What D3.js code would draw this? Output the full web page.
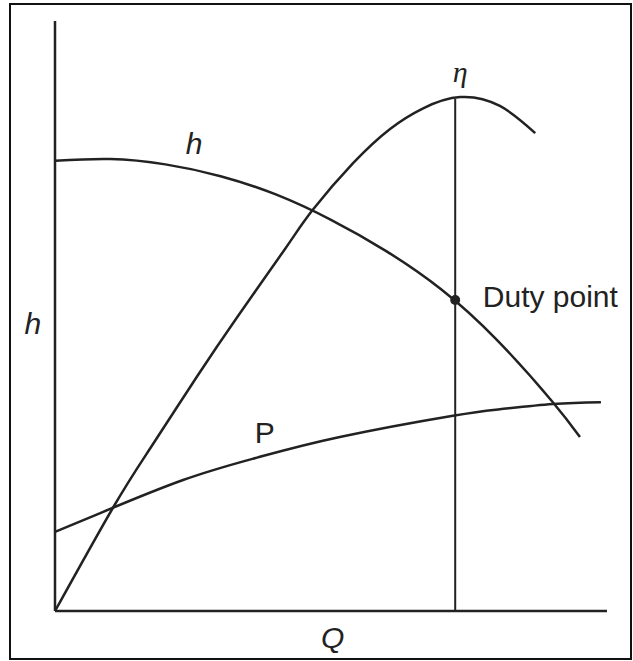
<!DOCTYPE html>
<html lang="en">
  <head>
    <meta charset="UTF-8" />
    <title>Pump curves</title>
    <style>
      body {
        margin: 0;
        padding: 0;
        background: #fff;
      }
      svg {
        display: block;
      }
      .lbl {
        font-family: 'Liberation Sans', Arial, sans-serif;
        font-size: 30px;
        fill: #222;
      }
    </style>
  </head>
  <body>
    <script src="https://cdn.jsdelivr.net/npm/d3@7"></script>
    <script>
      // flow (Q) on a 0-100 scale, curve values on a 0-100 scale
      const headQ = [0, 10, 20, 30, 40, 50, 60, 70, 80, 90, 95.1];
      const headV = [76.3, 76.6, 75.7, 73.7, 70.6, 66.3, 61.0, 54.5, 46.0, 35.6, 29.5];

      const effQ = [0, 10.5, 17.2, 25.7, 33.0, 41.7, 46.7, 54.0, 60.7, 66.7, 73.4, 80.6, 87.0];
      const effV = [0, 17.5, 27.5, 39.7, 49.8, 61.4, 68.0, 75.9, 81.7, 85.2, 87.1, 85.6, 81.0];

      const powerQ = [0, 8.2, 23.2, 36.6, 51.6, 72.1, 80.6, 90.2, 98.9];
      const powerV = [13.4, 16.6, 22.2, 26.0, 29.5, 33.1, 34.2, 35.1, 35.4];

      const dutyQ = 72.5;
      const dutyH = 52.7;
      const dutyTop = 86.8;

      const width = 633;
      const height = 661;

      const x = d3.scaleLinear().domain([0, 100]).range([55, 607]);
      const y = d3.scaleLinear().domain([0, 100]).range([611, 21]);

      const svg = d3.select('body').append('svg').attr('width', width).attr('height', height);

      // outer frame
      svg
        .append('rect')
        .attr('x', 10)
        .attr('y', 4)
        .attr('width', 621)
        .attr('height', 655)
        .attr('fill', 'none')
        .attr('stroke', '#111')
        .attr('stroke-width', 2);

      // axes (plain lines, no ticks)
      svg
        .append('line')
        .attr('x1', x(0))
        .attr('x2', x(0))
        .attr('y1', y(100))
        .attr('y2', y(0))
        .attr('stroke', '#222')
        .attr('stroke-width', 2.5);
      svg
        .append('line')
        .attr('x1', x(0))
        .attr('x2', x(100))
        .attr('y1', y(0))
        .attr('y2', y(0))
        .attr('stroke', '#222')
        .attr('stroke-width', 2.5);

      const line = d3
        .line()
        .x((d) => x(d[0]))
        .y((d) => y(d[1]))
        .curve(d3.curveNatural);

      const series = [
        d3.zip(headQ, headV),
        d3.zip(effQ, effV),
        d3.zip(powerQ, powerV)
      ];

      svg
        .selectAll('path.curve')
        .data(series)
        .enter()
        .append('path')
        .attr('class', 'curve')
        .attr('d', line)
        .attr('fill', 'none')
        .attr('stroke', '#222')
        .attr('stroke-width', 2.5);

      // duty point vertical line and dot
      svg
        .append('line')
        .attr('x1', x(dutyQ))
        .attr('x2', x(dutyQ))
        .attr('y1', y(0))
        .attr('y2', y(dutyTop))
        .attr('stroke', '#222')
        .attr('stroke-width', 2);
      svg
        .append('circle')
        .attr('cx', x(dutyQ))
        .attr('cy', y(dutyH))
        .attr('r', 5)
        .attr('fill', '#222');

      // labels
      const labels = [
        { t: '\u03b7', q: 73.4, v: 89.7, a: 'middle', it: true, serif: true },
        { t: 'h', q: 25.2, v: 77.5, a: 'middle', it: true },
        { t: 'P', q: 38.0, v: 28.5, a: 'middle', it: false },
        { t: 'Duty point', q: 77.5, v: 51.5, a: 'start', it: false },
        { t: 'h', q: -4.0, v: 46.9, a: 'middle', it: true },
        { t: 'Q', q: 50.3, v: -6.3, a: 'middle', it: true }
      ];

      svg
        .selectAll('text.lbl')
        .data(labels)
        .enter()
        .append('text')
        .attr('class', 'lbl')
        .attr('x', (d) => x(d.q))
        .attr('y', (d) => y(d.v))
        .attr('text-anchor', (d) => d.a)
        .style('font-style', (d) => (d.it ? 'italic' : 'normal'))
        .style('font-family', (d) => (d.serif ? "'Liberation Serif', serif" : null))
        .text((d) => d.t);
    </script>
  </body>
</html>
